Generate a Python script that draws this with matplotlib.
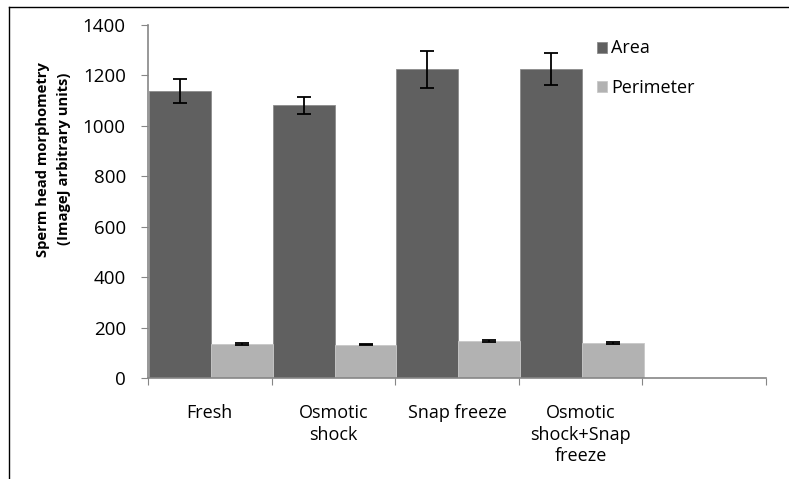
import matplotlib
matplotlib.use("Agg")
import matplotlib.pyplot as plt
import numpy as np

# values
categories = ["Fresh", "Osmotic\nshock", "Snap freeze", "Osmotic\nshock+Snap\nfreeze", ""]
area = [1137, 1082, 1224, 1225]
area_err = [47, 34, 74, 64]
perimeter = [133, 132, 145, 138]
perimeter_err = [4, 2, 4, 3]
yticks = [0, 200, 400, 600, 800, 1000, 1200, 1400]

plt.rcParams['font.family'] = ['Open Sans', 'DejaVu Sans']

fig = plt.figure(figsize=(7.89, 4.79), dpi=100)
ax = fig.add_axes([148 / 789, 1 - 378 / 479, (766 - 148) / 789, (378 - 25) / 479])

x = np.arange(len(area))
ax.bar(x + 0.26, area, width=0.5, color="#606060", edgecolor="#8c8c8c", linewidth=0.6,
       yerr=area_err, error_kw=dict(ecolor="black", elinewidth=1.3, capsize=5, capthick=1.3),
       label="Area", zorder=2)
ax.bar(x + 0.76, perimeter, width=0.5, color="#b2b2b2", edgecolor="#c8c8c8", linewidth=0.6,
       yerr=perimeter_err, error_kw=dict(ecolor="black", elinewidth=1.3, capsize=5, capthick=1.3),
       label="Perimeter", zorder=2)

ax.set_xlim(0, 5)
ax.set_ylim(0, 1400)
ax.set_yticks(yticks)
ax.set_xticks(np.arange(6))
ax.set_xticklabels([])
ax.set_xticks(np.arange(5) + 0.5, minor=True)
ax.set_xticklabels(categories, minor=True, fontsize=13, linespacing=1.25, va="top")
ax.tick_params(axis="x", which="minor", length=0, pad=19)
ax.tick_params(axis="x", which="major", length=5, color="#868686", direction="out")
ax.tick_params(axis="y", length=5, color="#868686", labelsize=13.5, pad=11)

for s in ["top", "right"]:
    ax.spines[s].set_visible(False)
for s in ["left", "bottom"]:
    ax.spines[s].set_color("#868686")
    ax.spines[s].set_linewidth(1.2)

ax.set_ylabel("Sperm head morphometry\n(ImageJ arbitrary units)", fontsize=10.6,
              fontweight="bold", linespacing=1.65,
              family=['Liberation Sans Narrow', 'Open Sans'])
ax.yaxis.set_label_coords(-0.125, 0.62)

ax.legend(loc="upper left", bbox_to_anchor=(0.7, 1.005), frameon=False, fontsize=13,
          handlelength=0.55, handleheight=0.55, labelspacing=1.2, handletextpad=0.25)

# border around the chart area
fig.add_artist(plt.Line2D([9 / 789, 9 / 789], [0, 1 - 7 / 479], color="black", linewidth=1))
fig.add_artist(plt.Line2D([9 / 789, 1], [1 - 7 / 479, 1 - 7 / 479], color="black", linewidth=1))

fig.savefig("out.png", dpi=100)
